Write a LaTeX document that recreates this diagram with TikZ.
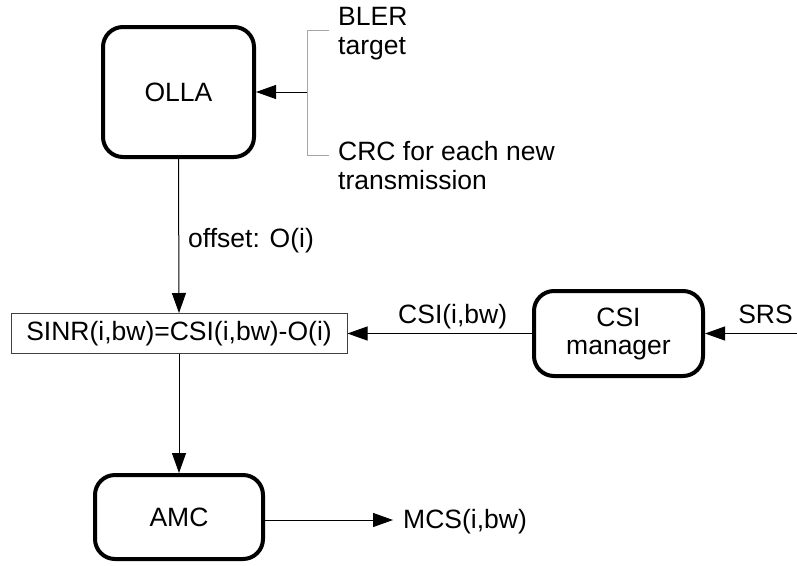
\documentclass[tikz,border=0pt]{standalone}
\usepackage{fontspec}
\setmainfont{Liberation Sans}
\usetikzlibrary{arrows.meta}
\begin{document}
\begin{tikzpicture}[x=1pt,y=-1pt,
  txt/.style={font=\fontsize{26.5}{30}\selectfont, inner sep=0pt},
  rbox/.style={draw, line width=4pt, rounded corners=20pt, font=\fontsize{26.5}{30}\selectfont, align=center, inner sep=0pt},
  flow/.style={line width=1pt, -{Triangle[length=20pt,width=14pt]}},
  brk/.style={line width=1pt, draw=gray!70}]
\useasboundingbox (0,0) rectangle (797,565);
\node[rbox, minimum width=151pt, minimum height=130pt] (olla) at (178.5,92) {OLLA};
\node[draw=black!75, line width=1pt, font=\fontsize{26.5}{30}\selectfont, minimum width=336pt, minimum height=40pt, inner sep=0pt] (sinr) at (179,333.5) {SINR(i,bw)=CSI(i,bw)-O(i)};
\node[rbox, minimum width=169pt, minimum height=85pt] (csi) at (618.5,333.5) {CSI\\[-2pt]manager};
\node[rbox, minimum width=168pt, minimum height=84pt] (amc) at (179,517) {AMC};
% bracket
\coordinate (bt) at (329,30);
\coordinate (bb) at (329,155);
\coordinate (bm) at (307,92);
\draw[brk] (bt) -- (307,30) -- (307,155) -- (bb);
\draw[flow] (bm) -- (olla.east);
\node[txt, anchor=base west] (bler) at (338,25) {BLER};
\node[txt, anchor=base west] (target) at (338,54) {target};
\node[txt, anchor=base west] (crc) at (338,160) {CRC for each new};
\node[txt, anchor=base west] (trans) at (338,189) {transmission};
% OLLA -> SINR
\draw[flow] (olla.south) -- (sinr.north);
\node[txt, anchor=base west] (offs) at (188,247) {offset: O(i)};
% CSI -> SINR
\draw[flow] (csi.west) -- (sinr.east);
\node[txt, anchor=base west] (csil) at (398,323) {CSI(i,bw)};
% SRS -> CSI
\coordinate (srsin) at (797,333.5);
\draw[flow] (srsin) -- (csi.east);
\node[txt, anchor=base east] (srs) at (793,323) {SRS};
% SINR -> AMC
\draw[flow] (sinr.south) -- (amc.north);
% AMC -> MCS
\coordinate (mcsend) at (393,520);
\draw[flow] (amc.east |- mcsend) -- (mcsend);
\node[txt, anchor=base west] (mcs) at (403,528) {MCS(i,bw)};
\end{tikzpicture}
\end{document}
